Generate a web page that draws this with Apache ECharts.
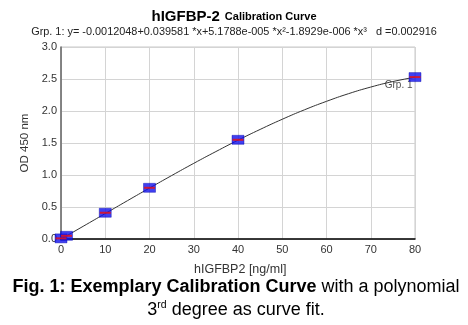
<!DOCTYPE html>
<html>
<head>
<meta charset="utf-8">
<script src="https://cdn.jsdelivr.net/npm/echarts@6/dist/echarts.min.js"></script>
<style>
  html, body { margin: 0; padding: 0; background: #fff; }
  #chart { width: 468px; height: 325px; }
</style>
</head>
<body>
<div id="chart"></div>
<script>
// Standards: concentration (ng/ml) and measured OD 450 nm
const stdConc = [0, 1.25, 10, 20, 40, 80];
const stdOD = [0.01, 0.05, 0.41, 0.80, 1.55, 2.53];

// Fitted calibration curve, sampled every 5 ng/ml
const fitConc = [0, 5, 10, 15, 20, 25, 30, 35, 40, 45, 50, 55, 60, 65, 70, 75, 80];
const fitOD = [-0.001, 0.198, 0.398, 0.598, 0.796, 0.991, 1.182, 1.366, 1.544, 1.712, 1.871, 2.018, 2.151, 2.271, 2.374, 2.460, 2.528];

// Curve label position
const curveLabel = [[76.3, 2.40]];

const yTicks = [0, 0.5, 1.0, 1.5, 2.0, 2.5, 3.0];
const xTicks = [0, 10, 20, 30, 40, 50, 60, 70, 80];

const pair = (xs, ys) => xs.map((x, i) => [x, ys[i]]);
const font = 'Liberation Sans, Arial, sans-serif';

const chart = echarts.init(document.getElementById('chart'), null, { renderer: 'canvas' });
chart.setOption({
  animation: false,
  backgroundColor: '#ffffff',
  title: [
    {
      text: '{a|hIGFBP-2} {b|Calibration Curve}',
      left: 'center', top: 3,
      textStyle: {
        rich: {
          a: { fontFamily: font, fontSize: 15, fontWeight: 'bold', color: '#000' },
          b: { fontFamily: font, fontSize: 11, fontWeight: 'bold', color: '#000' }
        }
      }
    },
    {
      text: 'Grp. 1: y= -0.0012048+0.039581 *x+5.1788e-005 *x\u00b2-1.8929e-006 *x\u00b3   d =0.002916',
      left: 'center', top: 21,
      textStyle: { fontFamily: font, fontSize: 10.9, fontWeight: 'normal', color: '#222' }
    },
    {
      text: 'hIGFBP2 [ng/ml]',
      left: 189, top: 258,
      textStyle: { fontFamily: font, fontSize: 12.5, fontWeight: 'normal', color: '#333' }
    }
  ],
  graphic: [
    {
      type: 'text', x: 236, y: 278,
      style: {
        text: '{b|Fig. 1: Exemplary Calibration Curve}{n| with a polynomial}',
        textAlign: 'center',
        rich: {
          b: { fontFamily: font, fontSize: 18, fontWeight: 'bold', fill: '#000' },
          n: { fontFamily: font, fontSize: 18, fill: '#000' }
        }
      }
    },
    {
      type: 'text', x: 236, y: 295,
      style: {
        text: '{n|3}{s|rd}{n| degree as curve fit.}',
        textAlign: 'center',
        rich: {
          n: { fontFamily: font, fontSize: 18, fill: '#000', height: 20 },
          s: { fontFamily: font, fontSize: 10.5, fill: '#000', verticalAlign: 'top', height: 20, padding: [0, 0, 10, 0] }
        }
      }
    }
  ],
  grid: { left: 61, right: 53, top: 47, bottom: 86, show: true, borderColor: '#c8c8c8', borderWidth: 1 },
  xAxis: {
    type: 'value', min: 0, max: 80, interval: 10,
    axisLine: { onZero: false, lineStyle: { color: '#000', width: 1.5 } },
    axisTick: { show: false },
    axisLabel: { fontFamily: font, fontSize: 11, color: '#333', margin: 5,
      formatter: v => xTicks.includes(v) ? String(v) : '' },
    splitLine: { lineStyle: { color: '#d4d4d4', width: 1 } }
  },
  yAxis: {
    type: 'value', min: 0, max: 3, interval: 0.5,
    name: 'OD 450 nm', nameLocation: 'middle', nameGap: 28,
    nameTextStyle: { fontFamily: font, fontSize: 11.5, color: '#333' },
    axisLine: { onZero: false, lineStyle: { color: '#666', width: 1.5 } },
    axisTick: { show: false },
    axisLabel: { fontFamily: font, fontSize: 11, color: '#333', margin: 4,
      formatter: v => yTicks.includes(v) ? v.toFixed(1) : '' },
    splitLine: { lineStyle: { color: '#d4d4d4', width: 1 } }
  },
  series: [
    {
      type: 'line', data: pair(fitConc, fitOD), smooth: true, symbol: 'none',
      lineStyle: { color: '#333', width: 1 }, z: 2
    },
    {
      type: 'scatter', data: curveLabel, symbolSize: 1,
      itemStyle: { color: 'rgba(0,0,0,0)' },
      label: { show: true, position: 'inside', formatter: 'Grp. 1',
        fontFamily: font, fontSize: 10, color: '#222' }, z: 2
    },
    {
      type: 'scatter', data: pair(stdConc, stdOD), symbol: 'rect', symbolSize: [12, 9],
      itemStyle: { color: '#1010ee', borderColor: '#0000aa', borderWidth: 0.5 }, z: 3
    },
    {
      type: 'scatter', data: pair(stdConc, stdOD), symbol: 'rect', symbolSize: [11, 2],
      itemStyle: { color: '#ee1010' }, z: 4
    }
  ]
});
</script>
</body>
</html>
